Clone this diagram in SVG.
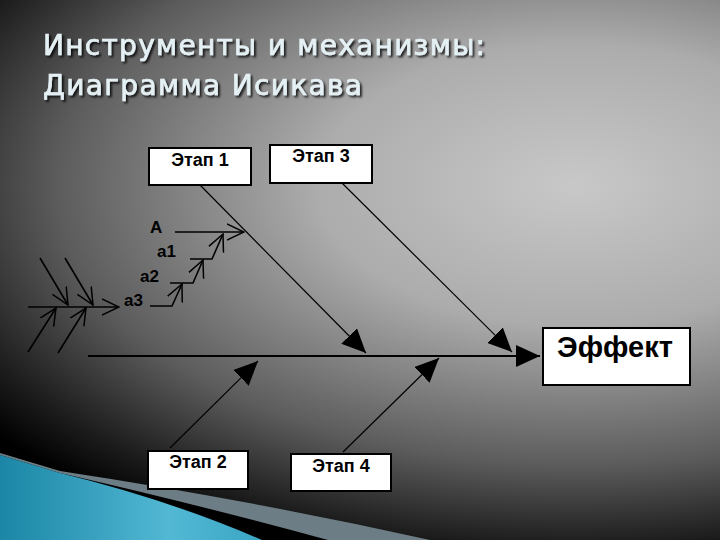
<svg xmlns="http://www.w3.org/2000/svg" width="720" height="540" viewBox="0 0 720 540">
<defs>
<radialGradient id="bg" gradientUnits="userSpaceOnUse" cx="0" cy="0" r="1" gradientTransform="translate(575,185) scale(740,400)">
<stop offset="0" stop-color="#c8c8c8"/>
<stop offset="0.35" stop-color="#acacac"/>
<stop offset="0.7" stop-color="#5c5c5c"/>
<stop offset="0.9" stop-color="#1c1c1c"/>
<stop offset="1" stop-color="#000000"/>
</radialGradient>
<linearGradient id="teal" x1="0" y1="0" x2="1" y2="0">
<stop offset="0" stop-color="#1b86a6"/>
<stop offset="0.65" stop-color="#52b8d4"/>
<stop offset="1" stop-color="#3aa6c4"/>
</linearGradient>
<filter id="shadow" x="-5%" y="-20%" width="110%" height="150%">
<feDropShadow dx="2" dy="2" stdDeviation="1" flood-color="#000" flood-opacity="0.8"/>
</filter>
<marker id="fill" markerUnits="userSpaceOnUse" viewBox="0 0 24 22" markerWidth="24" markerHeight="22" refX="24" refY="11" orient="auto">
<path d="M0,0 L24,11 L0,22 Z" fill="#000"/>
</marker>
<marker id="open" markerUnits="userSpaceOnUse" viewBox="0 0 18 18" markerWidth="18" markerHeight="18" refX="17" refY="9" orient="auto">
<path d="M0,1 L17,9 L0,17" fill="none" stroke="#000" stroke-width="1.5"/>
</marker>
<style>
.box{fill:#fff;stroke:#000;stroke-width:2}
.lbl{font-family:"Liberation Sans",Arial,sans-serif;font-weight:bold;fill:#000}
.title{font-family:"DejaVu Sans","Liberation Sans",sans-serif;font-size:28px;fill:#e4f0f4;stroke:#e4f0f4;stroke-width:0.7}
.thin{fill:none;stroke:#000;stroke-width:1.2}
.sub{fill:none;stroke:#000;stroke-width:1.6}
</style>
</defs>
<rect width="720" height="540" fill="url(#bg)"/>
<path d="M0,453 L60,471 Q250,500 430,540 L0,540 Z" fill="#6c7d85"/>
<path d="M0,455 L60,473 Q200,505 328,540 L0,540 Z" fill="#000"/>
<path d="M0,455 L60,473 Q170,500 262,540 L0,540 Z" fill="url(#teal)"/>
<g id="title" filter="url(#shadow)">
<text class="title" x="43" y="55" textLength="442" lengthAdjust="spacing">Инструменты и механизмы:</text>
<text class="title" x="43" y="95" textLength="319" lengthAdjust="spacing">Диаграмма Исикава</text>
</g>
<g id="connectors">
<line x1="88" y1="356" x2="540" y2="356" stroke="#000" stroke-width="2.2" marker-end="url(#fill)"/>
<path class="thin" d="M200,185 L366,353" marker-end="url(#fill)"/>
<path class="thin" d="M342,183 L512,352" marker-end="url(#fill)"/>
<path class="thin" d="M170,448 L258,361" marker-end="url(#fill)"/>
<path class="thin" d="M343,452 L439,358" marker-end="url(#fill)"/>
<path class="sub" d="M175,232 L244,232" marker-end="url(#open)"/>
<path class="sub" d="M190,259 L212,259 L223,234" marker-end="url(#open)"/>
<path class="sub" d="M170,283 L193,283 L203,260" marker-end="url(#open)"/>
<path class="sub" d="M150,306 L172,306 L182,284" marker-end="url(#open)"/>
<path class="sub" d="M28,307 L119,307" marker-end="url(#open)"/>
<path class="sub" d="M40,258 L68,305" marker-end="url(#open)"/>
<path class="sub" d="M65,258 L93,305" marker-end="url(#open)"/>
<path class="sub" d="M28,352 L56,308" marker-end="url(#open)"/>
<path class="sub" d="M58,353 L86,308" marker-end="url(#open)"/>
</g>
<g id="etap1">
<rect class="box" x="149" y="148" width="102" height="37"/>
<text class="lbl" x="200" y="166" font-size="18" text-anchor="middle">Этап 1</text>
</g>
<g id="etap3">
<rect class="box" x="270" y="145" width="102" height="38"/>
<text class="lbl" x="321" y="162" font-size="18" text-anchor="middle">Этап 3</text>
</g>
<g id="etap2">
<rect class="box" x="148" y="451" width="100" height="38"/>
<text class="lbl" x="198" y="468" font-size="18" text-anchor="middle">Этап 2</text>
</g>
<g id="etap4">
<rect class="box" x="291" y="454" width="100" height="37"/>
<text class="lbl" x="341" y="472" font-size="18" text-anchor="middle">Этап 4</text>
</g>
<g id="effect">
<rect class="box" x="543" y="328" width="147" height="57"/>
<text class="lbl" x="615" y="357" font-size="29" text-anchor="middle">Эффект</text>
</g>
<g id="label-A"><text class="lbl" x="150" y="233" font-size="17">A</text></g>
<g id="label-a1"><text class="lbl" x="157" y="257" font-size="17">a1</text></g>
<g id="label-a2"><text class="lbl" x="140" y="282" font-size="17">a2</text></g>
<g id="label-a3"><text class="lbl" x="124" y="306" font-size="17">a3</text></g>
</svg>
